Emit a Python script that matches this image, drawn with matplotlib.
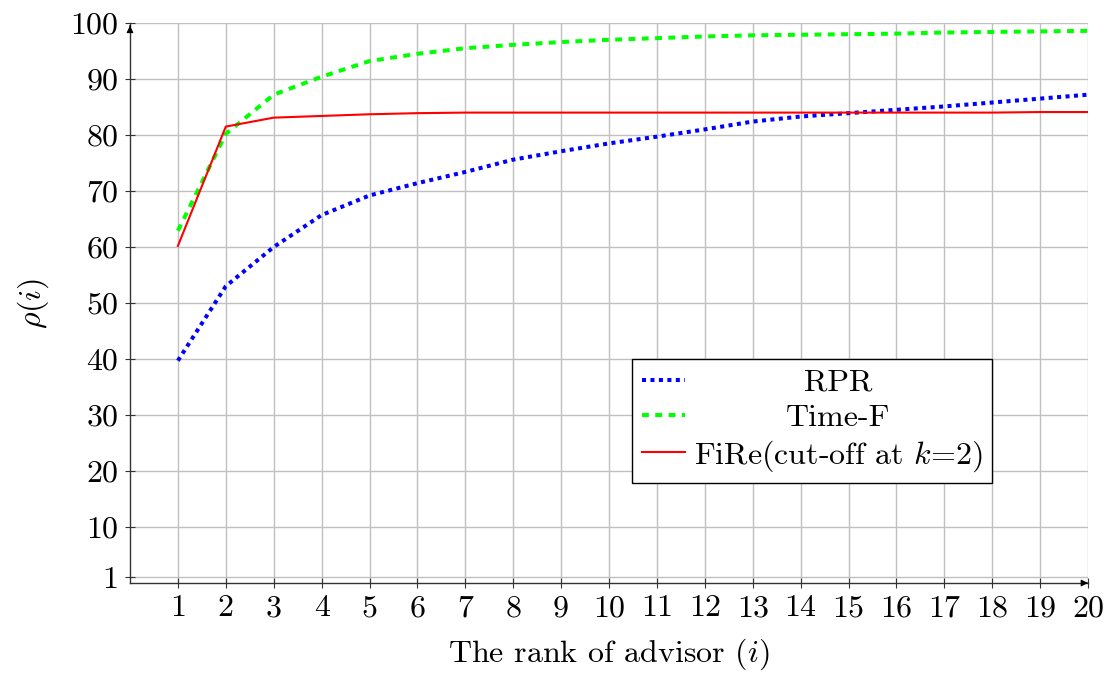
import matplotlib
matplotlib.use("Agg")
import matplotlib.pyplot as plt

plt.rcParams['font.family'] = 'serif'
plt.rcParams['font.serif'] = ['cmr10', 'DejaVu Serif']
plt.rcParams['mathtext.fontset'] = 'cm'
plt.rcParams['axes.unicode_minus'] = False

ranks = list(range(1, 21))
rpr = [39.7, 53.0, 60.0, 65.7, 69.2, 71.4, 73.4, 75.6, 77.1, 78.5,
       79.7, 81.0, 82.4, 83.3, 83.9, 84.5, 85.1, 85.8, 86.5, 87.2]
timef = [62.9, 80.2, 87.2, 90.4, 93.2, 94.5, 95.5, 96.1, 96.6, 97.0,
         97.3, 97.6, 97.8, 97.9, 98.0, 98.1, 98.3, 98.4, 98.5, 98.6]
fire = [60.2, 81.5, 83.1, 83.4, 83.7, 83.9, 84.0, 84.0, 84.0, 84.0,
        84.0, 84.0, 84.0, 84.0, 84.0, 84.0, 84.0, 84.0, 84.1, 84.1]
yticks = [1, 10, 20, 30, 40, 50, 60, 70, 80, 90, 100]
labels = ['RPR', 'Time-F', r'FiRe(cut-off at $k$=2)']

W, H = 1111, 673
fig = plt.figure(figsize=(W/100, H/100), dpi=100)
ax = fig.add_axes([130/W, 1-583/H, (1088-130)/W, (583-23)/H])

l1, = ax.plot(ranks, rpr, color='#0000ff', lw=2.9, linestyle=(0, (1.0, 1.1)),
              dash_capstyle='butt', label=labels[0])
l2, = ax.plot(ranks, timef, color='#00ff00', lw=2.9, linestyle=(0, (1.7, 1.6)),
              dash_capstyle='butt', label=labels[1])
l3, = ax.plot(ranks, fire, color='#ff0000', lw=1.5, label=labels[2])

ax.set_xlim(0, 20)
ax.set_ylim(0, 100)
ax.set_xticks(ranks)
ax.set_yticks(yticks)
ax.grid(True, color='#c0c0c0', lw=1.0)
ax.set_axisbelow(True)
for s in ['top', 'right']:
    ax.spines[s].set_visible(False)
for s in ['left', 'bottom']:
    ax.spines[s].set_color('#333333')
    ax.spines[s].set_linewidth(1.0)
ax.tick_params(direction='inout', length=7, width=0.8, color='#333333',
               labelsize=23, pad=5)

# axis arrows
ax.annotate('', xy=(1.0, 0), xytext=(0.995, 0), xycoords='axes fraction',
            arrowprops=dict(arrowstyle='-|>', color='black', lw=0.8, mutation_scale=10))
ax.annotate('', xy=(0, 1.0), xytext=(0, 0.99), xycoords='axes fraction',
            arrowprops=dict(arrowstyle='-|>', color='black', lw=0.8, mutation_scale=10))

ax.set_xlabel('The rank of advisor $(i)$', fontsize=23, labelpad=10)
ax.set_ylabel(r'$\rho(i)$', fontsize=23, labelpad=14)

leg = ax.legend(handles=[l1, l2, l3], loc='upper left',
                bbox_to_anchor=((632-130)/(1088-130), (583-359)/(583-23)),
                fontsize=23, frameon=True, fancybox=False, edgecolor='black',
                framealpha=1, handlelength=1.35, handletextpad=0.28,
                labelspacing=0.2, borderpad=0.3, borderaxespad=0)
leg.get_frame().set_linewidth(1.0)

# center legend texts in their column
fig.canvas.draw()
r = fig.canvas.get_renderer()
texts = leg.get_texts()
widths = [t.get_window_extent(r).width for t in texts]
mw = max(widths)
for t, w in zip(texts, widths):
    t.set_position(((mw - w) / 2, 0))

fig.savefig('out.png', dpi=100)
